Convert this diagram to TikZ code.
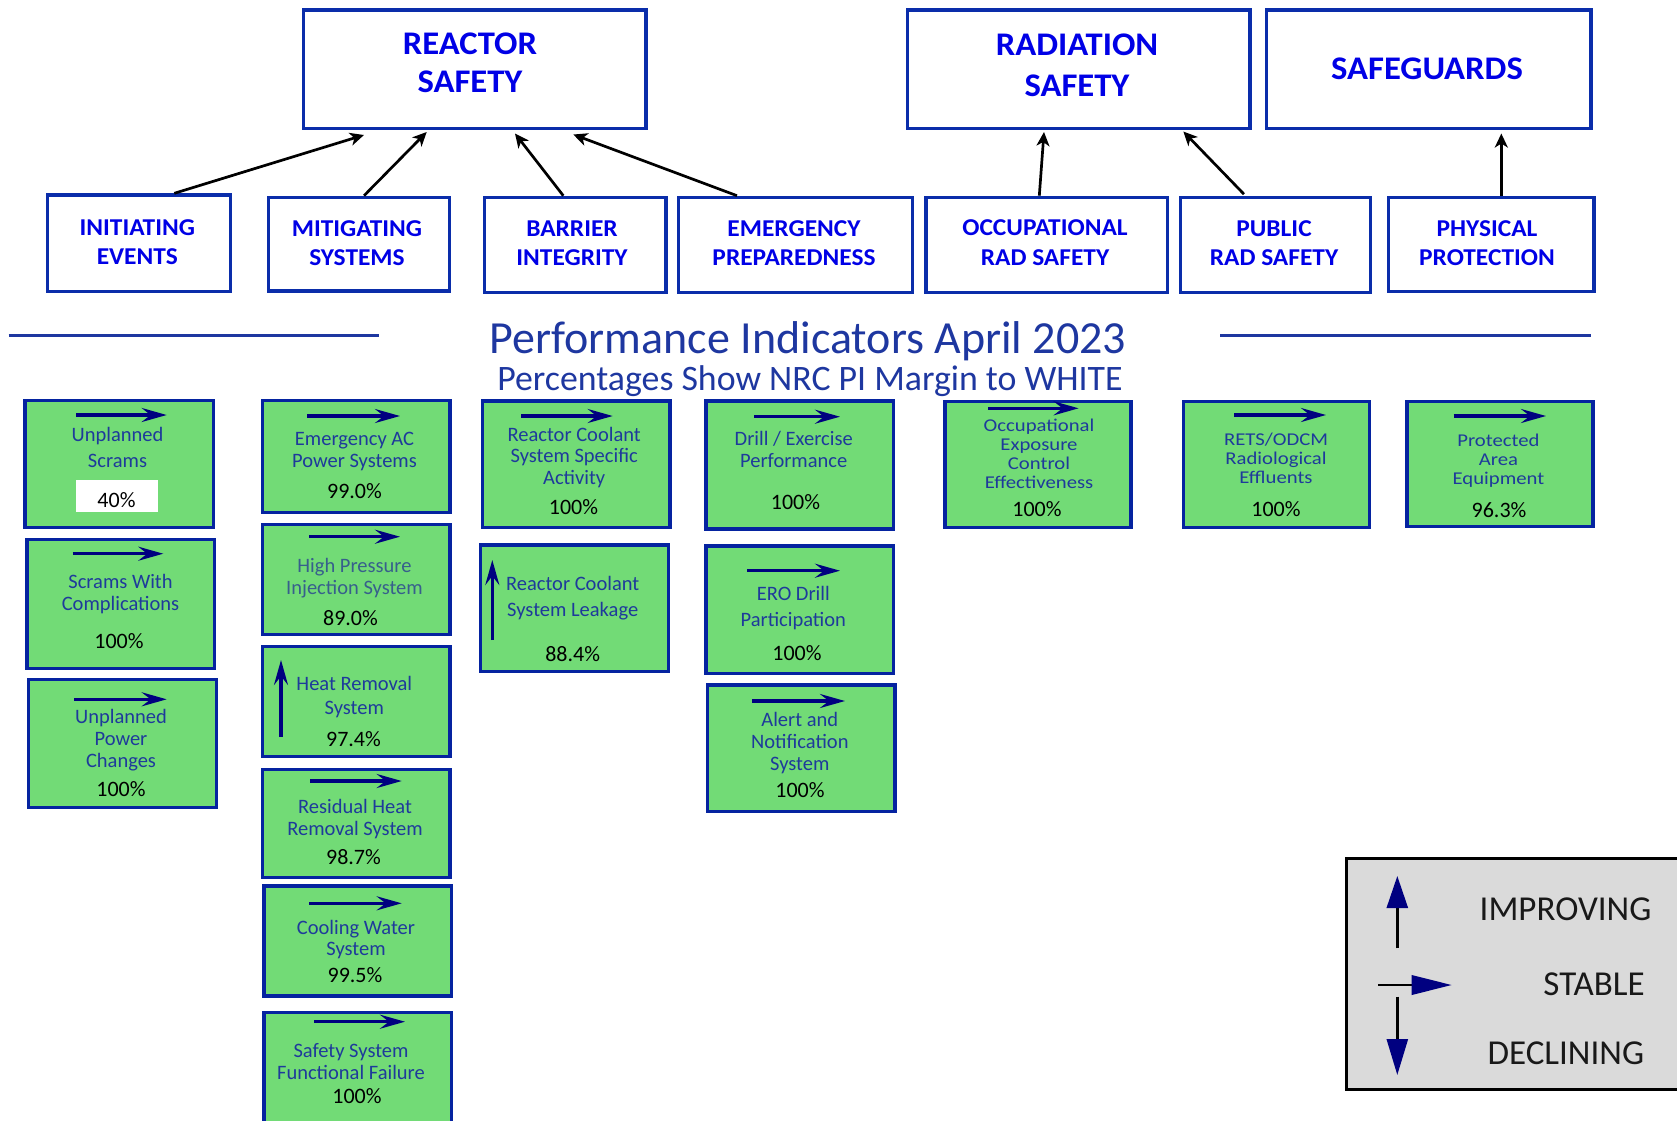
\documentclass[tikz,border=0pt]{standalone}
\usepackage{fontspec}
\setmainfont{Carlito}
\newfontfamily\hfont{Carlito}[FakeStretch=1.05]
\newfontfamily\sfont{Carlito}[FakeStretch=1.15]
\usetikzlibrary{arrows.meta,calc}
\definecolor{hblue}{RGB}{0,0,230}
\definecolor{hborder}{RGB}{10,45,170}
\definecolor{ggreen}{RGB}{114,219,118}
\definecolor{gborder}{RGB}{5,35,160}
\definecolor{gtext}{RGB}{30,58,155}
\definecolor{hpitext}{RGB}{55,95,140}
\definecolor{navyc}{RGB}{0,0,128}
\definecolor{ttlblue}{RGB}{30,55,160}
\definecolor{leggray}{RGB}{218,218,218}
\definecolor{legtext}{RGB}{25,25,25}
\tikzset{
 hdrbox/.style={draw=hborder, line width=3.3pt, fill=white, inner sep=0pt, anchor=north west},
 hdrtext/.style={font=\hfont\bfseries\fontsize{33}{#1}\selectfont, text=hblue, align=center, anchor=base, inner sep=0pt},
 hdrtext/.default=38.3,
 cattext/.style={font=\hfont\bfseries\fontsize{24.2}{29.8}\selectfont, text=hblue, align=center, anchor=base, inner sep=0pt},
 conn/.style={draw=black, line width=2.7pt, -{Stealth[length=14pt,width=13pt,inset=4pt]}},
 gbox/.style={draw=gborder, line width=3.3pt, fill=ggreen, inner sep=0pt, anchor=north west},
 glab/.style={font=\fontsize{20.5}{#1}\selectfont, text=gtext, align=center, anchor=base, inner sep=0pt},
 glab/.default=21.7,
 slab/.style={font=\sfont\fontsize{18}{19}\selectfont, text=gtext, align=center, anchor=base, inner sep=0pt},
 gpct/.style={font=\fontsize{22}{22}\selectfont, text=black, anchor=base, inner sep=0pt},
 stab/.style={draw=navyc, line width=3.2pt, -{Stealth[length=25pt,width=14pt,inset=9pt]}},
 hline/.style={draw=ttlblue, line width=3pt},
 legarrow/.style={draw=black, line width=2.6pt},
 legtxt/.style={font=\fontsize{35}{35}\selectfont, text=legtext, anchor=base, inner sep=0pt},
}
\newcommand\mkbox[6]{\node[#1, minimum width=#5pt, minimum height=#6pt] (#2) at (#3,#4) {};}
\begin{document}
\begin{tikzpicture}[x=1pt, y=-1pt]
\useasboundingbox (0,0) rectangle (1677,1120);
\clip (0,0) rectangle (1677,1120);

% ---------- top category boxes ----------
\mkbox{hdrbox}{rs}{301.7}{8.3}{342.6}{118.4}
\mkbox{hdrbox}{rads}{905.7}{8.3}{342.6}{118.4}
\mkbox{hdrbox}{sg}{1265}{8.3}{324.3}{118.4}
\node[hdrtext] (rs-t) at (470,92.3) {REACTOR\\SAFETY};
\node[hdrtext=41.7] (rads-t) at (1077,96.7) {RADIATION\\SAFETY};
\node[hdrtext] (sg-t) at (1427,79) {SAFEGUARDS};

% ---------- cornerstone boxes ----------
\mkbox{hdrbox}{ie}{46}{193.3}{182.6}{96.7}
\mkbox{hdrbox}{ms}{266.5}{195.7}{181.2}{93.6}
\mkbox{hdrbox}{bi}{482.7}{195.7}{181.6}{95.3}
\mkbox{hdrbox}{ep}{677}{195.7}{234}{95.3}
\mkbox{hdrbox}{ors}{924.3}{195.7}{241.7}{95.3}
\mkbox{hdrbox}{prs}{1179}{195.7}{190}{95.3}
\mkbox{hdrbox}{pp}{1386.7}{195.7}{205.6}{94.3}
\node[cattext] (ie-t) at (137.3,264.8) {INITIATING\\EVENTS};
\node[cattext] (ms-t) at (357,265.8) {MITIGATING\\SYSTEMS};
\node[cattext] (bi-t) at (572,265.8) {BARRIER\\INTEGRITY};
\node[cattext] (ep-t) at (794,265.8) {EMERGENCY\\PREPAREDNESS};
\node[cattext] (ors-t) at (1045,265.5) {OCCUPATIONAL\\RAD SAFETY};
\node[cattext] (prs-t) at (1274,265.8) {PUBLIC\\RAD SAFETY};
\node[cattext] (pp-t) at (1487,265.8) {PHYSICAL\\PROTECTION};

% ---------- connectors ----------
\draw[conn] ($(ie.north west)+(128.3,0)$) -- ($(rs.south west)+(62.3,5)$);
\draw[conn] ($(ms.north west)+(97.5,0)$) -- ($(rs.south west)+(125,2)$);
\draw[conn] ($(bi.north west)+(80.6,0)$) -- ($(rs.south west)+(213.3,3.5)$);
\draw[conn] ($(ep.north west)+(60,0)$) -- ($(rs.south west)+(271.6,4.5)$);
\draw[conn] ($(ors.north west)+(115,0)$) -- ($(rads.south west)+(138.3,2)$);
\draw[conn] ($(prs.north west)+(65,-1.5)$) -- ($(rads.south west)+(277.6,1.5)$);
\draw[conn] ($(pp.north west)+(114.6,0)$) -- ($(sg.south west)+(236.3,3.5)$);

% ---------- title ----------
\coordinate (hl1a) at (8.6,335.8);
\coordinate (hl1b) at (378.6,335.8);
\coordinate (hl2a) at (1220,335.8);
\coordinate (hl2b) at (1591,335.8);
\draw[hline] (hl1a) -- (hl1b);
\draw[hline] (hl2a) -- (hl2b);
\node[font=\fontsize{46}{46}\selectfont, text=ttlblue, anchor=base, inner sep=0pt] (ttl) at (808,353.3) {Performance Indicators April 2023};
\node[font=\fontsize{35.8}{36}\selectfont, text=ttlblue, anchor=base, inner sep=0pt] (sub) at (810,390) {Percentages Show NRC PI Margin to WHITE};

% ---------- column 1 ----------
\mkbox{gbox}{us}{23.3}{399}{188.4}{127}
\draw[stab] (76,415) -- (166.7,415);
\node[fill=white, minimum width=81.3pt, minimum height=31.7pt, inner sep=0pt, anchor=north west] (us-w) at (76,480) {};
\node[glab=25.6] (us-l) at (117.5,467.3) {Unplanned\\Scrams};
\node[gpct] (us-p) at (116.5,507.7) {40\%};

\mkbox{gbox}{sc}{25.3}{537.7}{187.7}{129}
\draw[stab] (72.7,553.7) -- (163.3,553.7);
\node[glab] (sc-l) at (120.5,610) {Scrams With\\Complications};
\node[gpct] (sc-p) at (119,648.3) {100\%};

\mkbox{gbox}{upc}{26.7}{678}{188.3}{128}
\draw[stab] (74,699.3) -- (166.7,699.3);
\node[glab=22] (upc-l) at (121,767.3) {Unplanned\\Power\\Changes};
\node[gpct] (upc-p) at (121,796.7) {100\%};

% ---------- column 2 ----------
\mkbox{gbox}{eac}{260.7}{399}{187.6}{111.7}
\draw[stab] (307.3,416) -- (400,416);
\node[glab] (eac-l) at (354.5,467.4) {Emergency AC\\Power Systems};
\node[gpct] (eac-p) at (354.5,498.3) {99.0\%};

\mkbox{gbox}{hpi}{260.7}{523}{187.6}{109.7}
\draw[stab] (309.3,536.7) -- (400,536.7);
\node[glab, text=hpitext] (hpi-l) at (354.5,594) {High Pressure\\Injection System};
\node[gpct] (hpi-p) at (350.5,625) {89.0\%};

\mkbox{gbox}{hr}{260.7}{645}{187.6}{110}
\draw[stab] (281,736.7) -- (281,660);
\node[glab=24] (hr-l) at (354.3,714) {Heat Removal\\System};
\node[gpct] (hr-p) at (353.5,746.7) {97.4\%};

\mkbox{gbox}{rhr}{260.7}{768}{187.6}{107.7}
\draw[stab] (310,781) -- (401.7,781);
\node[glab] (rhr-l) at (355,835) {Residual Heat\\Removal System};
\node[gpct] (rhr-p) at (353.5,864) {98.7\%};

\mkbox{gbox}{cw}{262.3}{884.3}{187.7}{110}
\draw[stab] (309.3,903.3) -- (401.7,903.3);
\node[glab=21] (cw-l) at (356,955) {Cooling Water\\System};
\node[gpct] (cw-p) at (355,982.3) {99.5\%};

\mkbox{gbox}{ssff}{262.3}{1011}{187.7}{130}
\draw[stab] (314.3,1021.7) -- (405,1021.7);
\node[glab] (ssff-l) at (351,1079) {Safety System\\Functional Failure};
\node[gpct] (ssff-p) at (357,1103.3) {100\%};

% ---------- column 3 ----------
\mkbox{gbox}{rsa}{480.7}{399.3}{187.6}{126.7}
\draw[stab] (521,416) -- (612.7,416);
\node[glab=21.2] (rsa-l) at (574.2,484.1) {Reactor Coolant\\System Specific\\Activity};
\node[gpct] (rsa-p) at (573.5,514.3) {100\%};

\mkbox{gbox}{rcl}{479}{543.3}{187.7}{126.7}
\draw[stab] (492.3,640) -- (492.3,560);
\node[glab=25.3] (rcl-l) at (572.7,616) {Reactor Coolant\\System Leakage};
\node[gpct] (rcl-p) at (572.7,661.7) {88.4\%};

% ---------- column 4 ----------
\mkbox{gbox}{de}{704.3}{399.3}{187.4}{128}
\draw[stab] (754.3,416.7) -- (840,416.7);
\node[glab=22.3] (de-l) at (793.7,467.3) {Drill / Exercise\\Performance};
\node[gpct] (de-p) at (795.5,509.3) {100\%};

\mkbox{gbox}{ero}{704.3}{544.3}{187.4}{127.4}
\draw[stab] (747.3,570.7) -- (840,570.7);
\node[glab=25.3] (ero-l) at (793.3,626) {ERO Drill\\Participation};
\node[gpct] (ero-p) at (797,660) {100\%};

\mkbox{gbox}{ans}{705.7}{683.3}{187.6}{126.7}
\draw[stab] (752.3,701) -- (845,701);
\node[glab] (ans-l) at (799.8,770.1) {Alert and\\Notification\\System};
\node[gpct] (ans-p) at (800,797.3) {100\%};

% ---------- columns 5-7 ----------
\mkbox{gbox}{occ}{943.3}{400}{186.1}{126}
\draw[stab] (988,408.3) -- (1078.6,408.3);
\node[slab] (occ-l) at (1039,488.7) {Occupational\\Exposure\\Control\\Effectiveness};
\node[gpct] (occ-p) at (1037,516.7) {100\%};

\mkbox{gbox}{rets}{1181.8}{400}{186.2}{126}
\draw[stab] (1234,415) -- (1326,415);
\node[slab] (rets-l) at (1276,483) {RETS/ODCM\\Radiological\\Effluents};
\node[gpct] (rets-p) at (1276,516.7) {100\%};

\mkbox{gbox}{pa}{1405.3}{400}{186.1}{125}
\draw[stab] (1453.6,416) -- (1546,416);
\node[slab] (pa-l) at (1498.4,484.7) {Protected\\Area\\Equipment};
\node[gpct] (pa-p) at (1499,517.3) {96.3\%};

% ---------- legend ----------
\node[draw=black, line width=3pt, fill=leggray, minimum width=345pt, minimum height=231pt, inner sep=0pt, anchor=north west] (leg) at (1345,857) {};
\draw[legarrow, -{Triangle[length=32pt,width=21pt,color=navyc]}] (1397.3,948.3) -- (1397.3,876);
\draw[legarrow, -{Triangle[length=40pt,width=19.3pt,color=navyc]}] (1378.3,985) -- (1451.7,985);
\draw[legarrow, -{Triangle[length=36pt,width=21pt,color=navyc]}] (1397.3,996.7) -- (1397.3,1075);
\node[legtxt] (leg-i) at (1565.5,920) {IMPROVING};
\node[legtxt] (leg-s) at (1594,995) {STABLE};
\node[legtxt] (leg-d) at (1565.8,1064) {DECLINING};
\end{tikzpicture}
\end{document}
